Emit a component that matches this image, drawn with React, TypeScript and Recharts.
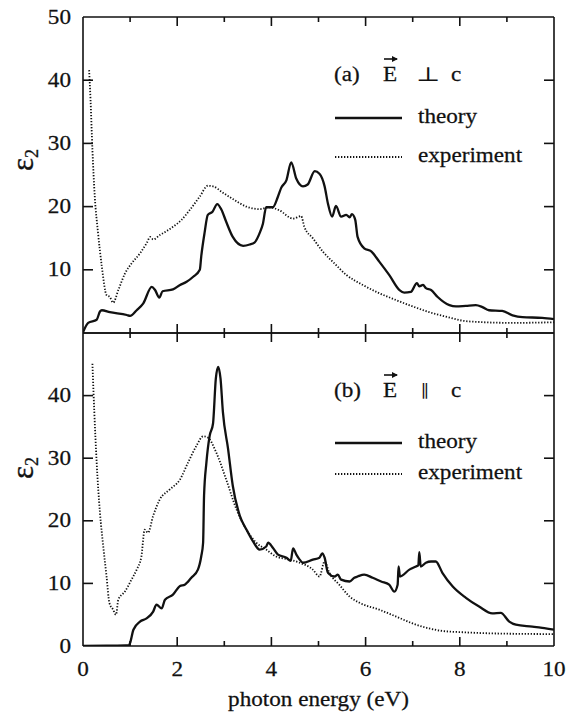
import React from 'react';
import { LineChart, Line, XAxis, YAxis, Legend } from 'recharts';

// ---------- data (photon energy eV, epsilon_2) ----------
const seriesNames = ['theory', 'experiment'];
const xTicks = [0, 1, 2, 3, 4, 5, 6, 7, 8, 9, 10];
const topLeftTicks = [10, 20, 30, 40, 50];
const bottomLeftTicks = [0, 10, 20, 30, 40];
const rightTicks = [10, 20, 30, 40];

const topTheory: [number, number][] = [
  [0, 0.1], [0.11, 1.6], [0.29, 2.1], [0.36, 3.4], [0.4, 3.6], [0.57, 3.3], [0.93, 2.85], [1.0, 2.7],
  [1.14, 3.6], [1.28, 4.7], [1.46, 7.3], [1.53, 6.8], [1.62, 5.6], [1.69, 6.6], [1.91, 6.9], [2.06, 7.6],
  [2.2, 8.1], [2.34, 8.9], [2.48, 10.0], [2.51, 12.1], [2.58, 15.8], [2.65, 18.7], [2.75, 19.2], [2.85, 20.4],
  [2.94, 19.5], [3.04, 17.6], [3.18, 15.2], [3.4, 13.8], [3.54, 14.0], [3.64, 14.3], [3.75, 15.8], [3.82, 17.3],
  [3.89, 19.9], [4.03, 19.9], [4.14, 21.6], [4.21, 23.0], [4.32, 24.2], [4.42, 27.0], [4.53, 24.4], [4.67, 23.2],
  [4.77, 23.5], [4.92, 25.6], [5.02, 25.2], [5.13, 23.2], [5.2, 20.5], [5.29, 18.4], [5.37, 20.1], [5.48, 18.4],
  [5.59, 18.7], [5.66, 18.3], [5.71, 18.8], [5.78, 17.9], [5.83, 15.2], [5.97, 13.4], [6.12, 12.9], [6.29, 11.3],
  [6.5, 9.2], [6.72, 6.8], [6.82, 6.4], [6.96, 6.5], [7.09, 7.9], [7.14, 7.4], [7.22, 7.6], [7.28, 7.1],
  [7.39, 6.8], [7.53, 5.7], [7.78, 4.4], [7.92, 4.2], [8.13, 4.3], [8.34, 4.4], [8.48, 4.1], [8.62, 3.6],
  [8.9, 3.5], [9.12, 2.8], [9.33, 2.5], [9.75, 2.4], [10, 2.2],
];

const topExperiment: [number, number][] = [
  [0.13, 41.6], [0.16, 36.9], [0.2, 29], [0.25, 21.6], [0.32, 15.8], [0.4, 10.5], [0.5, 6.0], [0.57, 5.7],
  [0.64, 4.8], [0.75, 6.8], [0.89, 9.4], [1.03, 11.0], [1.21, 12.6], [1.35, 14.2], [1.43, 15.2], [1.49, 14.8],
  [1.63, 15.5], [1.77, 16.1], [1.91, 16.8], [2.09, 17.9], [2.27, 19.5], [2.48, 21.6], [2.65, 23.3], [2.76, 23.2],
  [2.97, 22.2], [3.18, 21.2], [3.47, 20.0], [3.75, 19.6], [3.96, 19.9], [4.17, 19.4], [4.46, 18.1], [4.63, 18.5],
  [4.7, 16.8], [4.88, 15.0], [5.09, 12.9], [5.34, 11.0], [5.59, 9.2], [5.94, 7.6], [6.29, 6.3], [6.65, 5.2],
  [7.0, 4.2], [7.35, 3.3], [7.7, 2.6], [8.06, 1.95], [8.41, 1.74], [9.12, 1.6], [10, 1.7],
];

const bottomTheory: [number, number][] = [
  [0, 0], [0.5, 0.05], [0.98, 0.15], [1.0, 0.5], [1.07, 2.6], [1.21, 3.9], [1.35, 4.4], [1.49, 5.5],
  [1.56, 6.6], [1.67, 6.0], [1.74, 7.4], [1.91, 8.2], [2.06, 9.6], [2.16, 9.8], [2.3, 10.9], [2.44, 12.2],
  [2.51, 14.3], [2.55, 16.5], [2.57, 24.0], [2.62, 29.3], [2.69, 33.6], [2.76, 35.5], [2.82, 42.7], [2.87, 44.6],
  [2.92, 42.7], [2.97, 37.4], [3.08, 31.5], [3.18, 25.6], [3.33, 20.8], [3.47, 18.6], [3.61, 16.7], [3.75, 15.4],
  [3.89, 15.9], [3.93, 16.5], [4.03, 15.7], [4.14, 14.6], [4.32, 14.1], [4.41, 13.6], [4.46, 15.6], [4.53, 14.6],
  [4.6, 13.8], [4.67, 13.3], [4.88, 13.8], [5.02, 14.1], [5.08, 14.8], [5.13, 14.1], [5.2, 11.7], [5.34, 11.1],
  [5.41, 11.4], [5.48, 10.6], [5.66, 10.3], [5.76, 10.9], [5.83, 11.1], [5.97, 11.4], [6.15, 10.9], [6.33, 10.3],
  [6.5, 9.8], [6.61, 8.7], [6.68, 9.8], [6.7, 12.7], [6.73, 11.1], [6.93, 12.2], [7.07, 12.7], [7.12, 12.9],
  [7.14, 15.0], [7.17, 12.7], [7.28, 13.3], [7.39, 13.5], [7.49, 13.5], [7.63, 11.7], [7.85, 9.5], [8.13, 7.7],
  [8.41, 6.3], [8.69, 5.2], [8.87, 5.3], [9.05, 3.9], [9.19, 3.4], [9.54, 3.1], [9.75, 2.9], [10, 2.6],
];

const bottomExperiment: [number, number][] = [
  [0.2, 45.1], [0.24, 37.4], [0.29, 29.3], [0.36, 21.3], [0.43, 15.9], [0.5, 11.1], [0.56, 6.9], [0.64, 5.8],
  [0.7, 5.0], [0.75, 7.4], [0.89, 8.7], [1.03, 10.6], [1.14, 12.2], [1.24, 14.3], [1.31, 18.6], [1.38, 18.1],
  [1.49, 20.8], [1.63, 23.4], [1.84, 25.0], [2.06, 26.6], [2.23, 29.3], [2.41, 32.0], [2.55, 33.5], [2.65, 33.3],
  [2.83, 30.9], [3.04, 26.6], [3.26, 21.8], [3.47, 18.6], [3.68, 16.5], [3.89, 15.4], [4.1, 14.3], [4.39, 13.8],
  [4.6, 13.3], [4.88, 12.2], [5.02, 11.1], [5.13, 13.5], [5.23, 11.7], [5.44, 9.8], [5.66, 7.9], [5.87, 6.9],
  [6.29, 5.8], [6.65, 4.7], [7.0, 3.6], [7.35, 2.8], [7.63, 2.4], [8.06, 2.2], [8.76, 2.0], [10, 1.9],
];

const toRows = (pts: [number, number][]) => pts.map(([x, y]) => ({ x, y }));

// ---------- styling helpers ----------
const FONT = 'Liberation Serif, DejaVu Serif, serif';
const INK = '#111';
const AX = { stroke: INK, strokeWidth: 1.6 };
const W = 577;

const SText = ({ x, y, anchor = 'start', size = 20.5, children }: any) => (
  <text
    transform={`translate(${x} ${y}) scale(1.13 1)`}
    textAnchor={anchor}
    style={{ fontFamily: FONT, fontSize: size }}
    fill={INK}
    stroke={INK}
    strokeWidth={0.25}
  >
    {children}
  </text>
);

const xTickBottom = (labels: boolean) => (p: any) => {
  const v = p.payload.value;
  const len = v % 2 === 0 ? 9 : 5;
  const edge = v === 0 || v === 10;
  return (
    <g>
      {!edge && <line x1={p.x} x2={p.x} y1={p.y} y2={p.y - len} {...AX} />}
      {labels && v % 2 === 0 && (
        <SText x={p.x} y={p.y + 30} anchor="middle">{v}</SText>
      )}
    </g>
  );
};

const xTickTop = (p: any) => {
  const v = p.payload.value;
  const len = v % 2 === 0 ? 9 : 5;
  const edge = v === 0 || v === 10;
  return <g>{!edge && <line x1={p.x} x2={p.x} y1={p.y} y2={p.y + len} {...AX} />}</g>;
};

const yTickLeft = (edgeVals: number[]) => (p: any) => {
  const v = p.payload.value;
  return (
    <g>
      {!edgeVals.includes(v) && <line x1={p.x} x2={p.x + 10} y1={p.y} y2={p.y} {...AX} />}
      <SText x={p.x - 12} y={p.y + 6.5} anchor="end">{v}</SText>
    </g>
  );
};

const yTickRight = (p: any) => (
  <g>
    <line x1={p.x} x2={p.x - 10} y1={p.y} y2={p.y} {...AX} />
  </g>
);

const YLabel = (cy: number) => () => (
  <text
    transform={`translate(33 ${cy}) rotate(-90)`}
    textAnchor="middle"
    style={{ fontFamily: FONT, fontSize: 31 }}
    fill={INK}
    stroke={INK}
    strokeWidth={0.3}
  >
    ε<tspan style={{ fontSize: 18 }} dy={5}>2</tspan>
  </text>
);

const XLabel = () => (
  <SText x={318.5} y={706} anchor="middle">photon energy (eV)</SText>
);

const Arrow = ({ x, y, w }: any) => (
  <g>
    <line x1={x} x2={x + w} y1={y} y2={y} stroke={INK} strokeWidth={1.6} />
    <path d={`M${x + w + 1},${y} L${x + w - 5},${y - 3} L${x + w - 5},${y + 3} Z`} fill={INK} />
  </g>
);

const makeLegend = (cfg: { tag: string; rel: string; base: number; lineY: number[] }) => (props: any) => {
  const payload = (props && props.payload) || [];
  const isPerp = cfg.rel === '⊥';
  return (
    <svg width={W} height={713} style={{ position: 'absolute', left: 0, top: 0, overflow: 'visible' }}>
      <SText x={334} y={cfg.base}>{cfg.tag}</SText>
      <SText x={383} y={cfg.base}>E</SText>
      <Arrow x={384} y={cfg.base - 22} w={13} />
      <text
        transform={`translate(${isPerp ? 416 : 421} ${cfg.base}) scale(${isPerp ? 1.3 : 1} 1)`}
        style={{ fontFamily: isPerp ? 'DejaVu Serif, serif' : FONT, fontSize: isPerp ? 20 : 17 }}
        fill={INK}
      >
        {cfg.rel}
      </text>
      <SText x={451} y={cfg.base}>c</SText>
      {seriesNames.map((name, i) => {
        const entry = payload.find((e: any) => e.value === name);
        const dash = entry && entry.payload ? entry.payload.strokeDasharray : undefined;
        const sw = entry && entry.payload ? entry.payload.strokeWidth : 2;
        const y = cfg.lineY[i];
        return (
          <g key={name}>
            <line x1={335} x2={402} y1={y} y2={y} stroke={INK} strokeWidth={sw} strokeDasharray={dash} />
            <SText x={418} y={y + 5}>{name}</SText>
          </g>
        );
      })}
    </svg>
  );
};

const legendWrap = { position: 'absolute', left: 0, top: 0, width: W, height: 0, overflow: 'visible' } as any;

function Panel({
  height, topH, bottomH, yTicksL, theory, experiment, legend, yLabelY, bottomLabels,
}: any) {
  return (
    <LineChart width={W} height={height} margin={{ top: 0, right: 0, bottom: 0, left: 0 }}>
      <XAxis
        xAxisId="b" dataKey="x" type="number" domain={[0, 10]} ticks={xTicks} interval={0}
        orientation="bottom" height={bottomH} allowDataOverflow
        axisLine={AX} tickLine={false} tickSize={0} tickMargin={0}
        tick={xTickBottom(bottomLabels)}
        label={bottomLabels ? <XLabel /> : undefined}
      />
      <XAxis
        xAxisId="t" dataKey="x" type="number" domain={[0, 10]} ticks={xTicks} interval={0}
        orientation="top" height={topH} allowDataOverflow
        axisLine={AX} tickLine={false} tickSize={0} tickMargin={0}
        tick={xTickTop}
      />
      <YAxis
        yAxisId="l" type="number" domain={[0, 50]} ticks={yTicksL} interval={0}
        orientation="left" width={83} allowDataOverflow
        axisLine={AX} tickLine={false} tickSize={0} tickMargin={0}
        tick={yTickLeft([0, 50])}
        label={YLabel(yLabelY)}
      />
      <YAxis
        yAxisId="r" type="number" domain={[0, 50]} ticks={rightTicks} interval={0}
        orientation="right" width={23} allowDataOverflow
        axisLine={AX} tickLine={false} tickSize={0} tickMargin={0}
        tick={yTickRight}
      />
      <Line
        xAxisId="b" yAxisId="l" data={toRows(theory)} dataKey="y" name={seriesNames[0]}
        type="monotone" stroke={INK} strokeWidth={2.3} dot={false} isAnimationActive={false}
      />
      <Line
        xAxisId="b" yAxisId="l" data={toRows(experiment)} dataKey="y" name={seriesNames[1]}
        type="monotone" stroke={INK} strokeWidth={1.8} strokeDasharray="1.3 1.7" dot={false}
        isAnimationActive={false}
      />
      <Legend
        layout="horizontal" verticalAlign="middle" align="center"
        wrapperStyle={legendWrap} content={legend}
      />
    </LineChart>
  );
}

export default function App() {
  return (
    <div style={{ position: 'absolute', left: 0, top: 0, width: W, height: 713, background: '#fff' }}>
      <div style={{ position: 'absolute', left: 0, top: 0 }}>
        <Panel
          height={345} topH={17} bottomH={12} yTicksL={topLeftTicks}
          theory={topTheory} experiment={topExperiment} yLabelY={160} bottomLabels={false}
          legend={makeLegend({ tag: '(a)', rel: '⊥', base: 81, lineY: [118, 157] })}
        />
      </div>
      <div style={{ position: 'absolute', left: 0, top: 0 }}>
        <Panel
          height={713} topH={333} bottomH={67} yTicksL={bottomLeftTicks}
          theory={bottomTheory} experiment={bottomExperiment} yLabelY={468} bottomLabels={true}
          legend={makeLegend({ tag: '(b)', rel: '∥', base: 397, lineY: [443, 474] })}
        />
      </div>
    </div>
  );
}
